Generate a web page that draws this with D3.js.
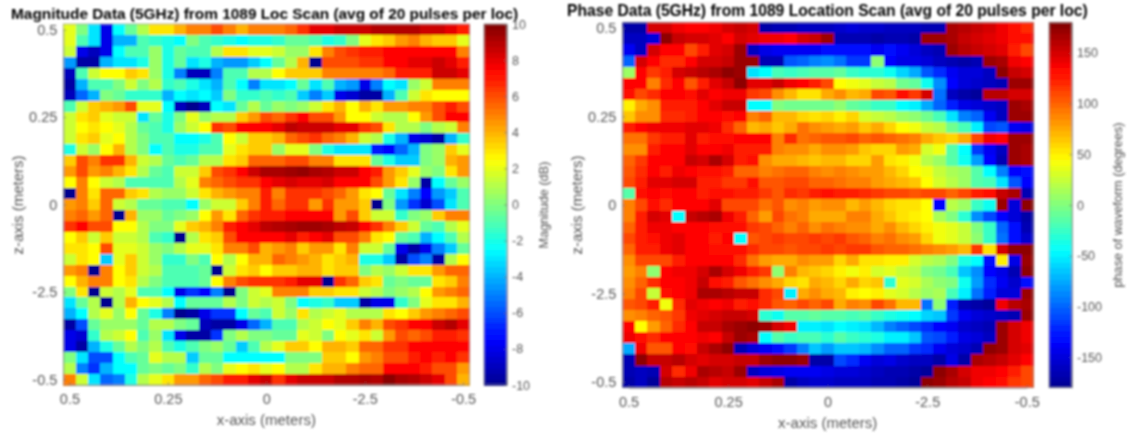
<!DOCTYPE html>
<html>
<head>
<meta charset="utf-8">
<script src="https://d3js.org/d3.v7.min.js"></script>
<style>
  body { margin: 0; background: #fff; }
  text { font-family: "Liberation Sans", Arial, sans-serif; }
</style>
</head>
<body>
<svg id="chart" width="1131" height="436"></svg>
<script>
// tick labels, as printed on the figure (the -2.5 really is there)
var xTickValues = [0.5, 0.25, 0, -0.25, -0.5];
var xTickLabels = ["0.5", "0.25", "0", "-2.5", "-0.5"];
var yTickValues = [0.5, 0.25, 0, -0.25, -0.5];
var yTickLabels = ["0.5", "0.25", "0", "-2.5", "-0.5"];
var magnitudeTicks = [-10, -8, -6, -4, -2, 0, 2, 4, 6, 8, 10];
var phaseTicks = [-150, -100, -50, 0, 50, 100, 150];

// dB, one row per z position, top row first
var magnitude = [
  [2,0,-3,-8,-2.5,-0.5,1,3,3,4,5,5,6,5,4,5,5,5,5.5,6.5,8,8,8.5,8.5,8.5,9,9,9,9,8.5,8.5,8,7],
  [2,-1,-3,-8,-4,-4,-1,-1.5,-2,-2.5,0,-1,-1.5,-2,-2.5,-2,-2,-1.5,-0.5,-0.5,-1,-2,-1.5,0,2,3,3.5,4.5,5,4,3.5,3.5,2],
  [1.5,-8,-9,-8,-2.5,-1,-1,0.5,-2,-0.5,-1,-1,1,3,3,2,2,1.5,0.5,0.5,3,5,6,6.5,7,7,7.5,7.5,7.5,7.5,7.5,7.5,5],
  [-4.5,-9.5,-9.5,-4,-3,-3,-2,0.5,-2,-0.5,-3,-2,-4,-4.5,-4.5,-3.5,-2.5,-0.5,1,4,-10,6,6,6,6.5,6.5,7.5,7.5,8,8,8.5,8,7],
  [-9,-1,1.5,2.5,2.5,3.5,3,0.5,-2,-5,-9,-9,-5,-1,-1,1,1,2.5,3.5,3.5,3.5,5,5,5,5,5,5.5,7,7,7,8.5,8.5,8],
  [-9.5,-4,-1,-1,0,1.5,0,1,-1.5,-1,-2,-3,-4,-1,-2.5,-5,-3,-3,-2.5,-0.5,-3,-1,-4,-4.5,-8,-5,-2.5,-3,0.5,1.5,5,5,5],
  [-9,-5.5,-4,0,-0.5,-1.5,-1.5,-1.5,-4,-2.5,-3,-2.5,-3.5,0,-1.5,-1.5,-1,-1.5,-1,-3.5,-5,-3.5,-8,-8.5,-9.5,-9.5,-4,-1,1.5,3,2.5,2.5,2.5],
  [-1,1.5,3.5,4,4.5,6,2,2,-2.5,-9,-10,-9,-2.5,-3,-0.5,1,-0.5,0.5,0,0.5,1.5,3,4,2.5,4,3,4.5,4.5,5,5,6,7,6],
  [1.5,3,3.5,2,1.5,1.5,-3,-0.5,-2,0,2,0.5,1,1,3.5,4.5,6,5.5,6.5,7.5,6,6,4.5,2.5,2.5,1.5,1,1,2.5,4.5,6,7.5,7.5],
  [1.5,2.5,3,2.5,2,1,-0.5,-1,-2,0.5,1.5,2.5,6.5,6,7.5,7.5,7.5,8,8.8,8.5,8.5,8.5,8,8,6.5,6,3,1,1,0,1,1.5,5],
  [1.5,3,3.5,2,2.5,1,0,-1,-1,-2.5,-2.5,-2,-1,2.5,1.5,3.5,3.5,4,5.5,6,6.5,5.5,5,4,1.5,1,-2,-4,-8,-8.5,-9.5,-4,-1.5],
  [-2,1.5,0.5,2.5,4,1,0,-2.5,-1,-2,-2,-1,-1,2,3,3.5,3.5,0.5,2,2,0,-2,-3,-3,-3,-7,-7.5,-5.5,-4,0,0.5,3.5,2],
  [3.5,6,5,6.5,6.5,4,1.5,1,-0.5,-1,-0.5,1,1,3,3.5,5.5,5.5,5.5,6,6,5,5,3,3,3,-0.5,-2,-3.5,-3.5,0,0.5,4,4.5],
  [4.5,6,4.5,5,4,3,1,-0.5,-1,1.5,1.5,3.5,6,6.5,7.5,8.5,9.2,9.2,9.4,9.6,9.2,9,8.5,8.5,7.5,7,4.5,3.5,2,0.5,0,3,4.5],
  [2.5,5,2.5,1.5,1,-1,-1,-1,-1,1,2,5,5.5,6,6.5,6.5,7.5,8,8.3,8,8,8.3,7.5,7.5,7.5,6,4.5,3,0.5,-9.5,-2.5,-0.5,0.5],
  [-10,5,3,5.5,5.5,3.5,3,1,0.5,0.5,1.5,3,4,4.5,5,5,7,5,6.5,6.5,6.5,6,5.5,4.5,3,2.5,-0.5,-3,-5,-7.5,-4.5,-3.5,-1],
  [4.5,5,3.5,5.5,1.5,1,-0.5,-0.5,-1,-1,-2.5,0.5,1.5,1.5,3.5,5,7,5.5,6.5,6.5,4.5,6.5,4.5,4.5,3.5,-10,0,-4.5,-6.5,-8.5,-6,-3,-1],
  [5,5.5,4.5,5.5,-10,4,0.5,0.5,-0.5,0,0.5,2.5,4.5,3,5.5,6.5,7,7,7.5,7.5,7.5,7.5,4.5,6,3.5,1.5,1.5,-1.5,0,0.5,3.5,5,5],
  [6.5,7.5,6,6,2.5,2.5,1,0,0,2,3.5,4,5,7,7.5,8,8.8,9,9.2,9.4,9.4,9.2,8.8,8.6,7.5,6.5,5,3.5,1.5,-0.5,-1,1,2],
  [2.5,3.5,1.5,3.5,1.5,1.5,1,-1,-1.5,-10,1,3,3.5,6,7.5,7.5,7.5,7.5,8,7,7.5,8,6,6,5,3,2.5,-0.5,-1,-4,-2.5,-1,1],
  [3,3,2.5,6,2,2,1.5,0.5,0,1,2,2,3,5,5,6,4,4.5,5,3.5,4.5,4.5,3,5,1.5,1.5,-0.5,-8,-9.5,-8,-5,-3.5,-0.5],
  [1.5,3,2.5,-3.5,2,3.5,1.5,0.5,-1.5,-1.5,0,-1,2.5,1,2.5,4,4,5.5,5,4.5,4,3,3.5,4,-2,-2,-3.5,-9.5,-6,-5,-9.5,1,2.5],
  [4.5,5,-10,5,2.5,3.5,1.5,1,-1,-1,-1,-0.5,-10,1.5,3,3.5,2.5,3.5,3.5,4,4,3,3.5,3.5,0,1,0.5,1.5,3,3,4.5,5.5,5.5],
  [2.5,4,5,5,2.5,3,1,0,-1,-1,-1,-0.5,2.5,5,6,6.5,6.5,6.5,7,8,8,-10,6.5,5.5,3.5,3,-0.5,0,-0.5,-0.5,3,3.5,5],
  [0,3,-10,1.5,1,2,-1,-1,-2.5,-8,-6.5,-7.5,-5,-10,0,1.5,2,5,5,5,3.5,3.5,3,3,1.5,1,0,0.5,1,2.5,4.5,5,5.5],
  [-3,-0.5,1,-10,1,4,2.5,2,1,-2.5,-0.5,-0.5,-0.5,1,0,1.5,1,1.5,0,-2.5,-2,-1.5,-3.5,-3.5,-9.5,-8,-8,-1.5,0,2,3,3,4],
  [-4,-2.5,1,2,0.5,2.5,-0.5,-2,-5,-10,-9.5,-8,-6.5,-6.5,-2.5,-0.5,-1,1.5,0.5,3,1,1.5,2,1,1,1,3,2.5,3.5,4.5,5,5.5,6],
  [-9.5,-6,-0.5,0.5,0.5,0.5,-0.5,1,1,0,-0.5,-9,-9.5,-9.5,-8,-5.5,-4,-1,-1,1,1.5,2.5,2,3.5,5,4,6,6.5,7.5,7.5,8.5,9,8],
  [-8,-8.5,-1.5,1,1.5,2.5,-1,0.5,-3,-8,-9.5,-9.5,-6.5,0,1,0,0,-0.5,-0.5,2,1.5,0,2.5,2,3,1.5,4.5,6,5.5,6,7,7,6.5],
  [-8,-9.5,-4,-2,-0.5,1,0,1,-1,-2,-1,0,0.5,-0.5,-3.5,-1,1,2,3.5,3.5,2.5,4,4,3.5,5.5,5.5,6.5,6.5,7.5,7.5,7.5,7.5,7.5],
  [0,-3,-6,-6,-2.5,-1,-0.5,2,1,1,-3.5,-0.5,-0.5,-2.5,-2.5,-2.5,-2.5,-2.5,0,0,0,3.5,3.5,2.5,4.5,5,6,6,7,7.5,7,7.5,6.5],
  [1,-5,-6.5,-4,-2.5,-2.5,-0.5,0,-0.5,0,-1.5,1,0,2,2.5,3,2,2.5,1,1,3,4,4,5,5.5,5.5,7.5,7.5,7.5,7,6,6,4.5],
  [5,1.5,-3,-5.5,-5,-2,1,2,3,4.5,4.5,5.5,6,7,7,8,8.5,6.5,8,8.5,8.5,8.5,9,9,9.2,9,9.8,9.2,9,8.5,8,6,4]
];

// degrees, same layout as magnitude
var phase = [
  [-170,-170,150,150,140,135,135,140,150,155,150,-170,-165,-165,-160,-160,-160,-155,-150,-155,-155,-160,-160,-160,-165,-165,165,160,155,150,140,130,120],
  [-160,-160,-150,175,155,150,150,145,135,150,145,140,140,135,150,155,170,-165,-165,-165,-170,-165,-165,-170,170,170,165,155,150,145,140,130,130],
  [-140,-160,150,135,135,110,125,145,150,170,-160,-145,-140,-140,-140,-140,-130,-130,-130,-130,-140,-130,-140,-150,-160,-165,170,160,155,150,145,125,110],
  [-100,150,135,120,120,135,150,150,155,170,170,-165,-165,-105,-100,-90,-85,-95,-115,-115,5,-135,-145,-145,-150,-160,-165,-170,-165,170,165,140,135],
  [10,135,115,125,150,155,160,165,175,170,-55,-45,-20,-25,-20,-15,-15,-10,-25,-30,-30,-40,-60,-75,-105,-120,-140,-150,-150,-160,175,155,150],
  [135,135,90,120,135,105,125,145,155,175,145,145,155,140,135,125,110,45,40,35,25,20,-5,-10,-40,-85,-135,-150,-155,-160,-165,170,170],
  [130,110,120,135,135,130,145,135,140,140,115,110,85,70,55,55,75,85,70,75,110,105,130,115,150,-95,-160,-170,-175,160,160,150,150],
  [50,75,85,125,125,125,135,145,155,155,-45,-45,0,-5,-5,-5,-5,5,-10,-15,-25,-25,-45,-50,-75,-100,-125,-145,-150,-155,-160,170,165],
  [65,85,85,120,120,125,135,135,130,135,90,100,70,70,60,55,60,50,60,30,25,20,10,5,-5,-20,-55,-90,-100,-140,-160,170,170],
  [125,135,140,140,140,145,145,140,120,100,70,75,65,75,95,85,80,75,80,65,75,60,45,40,25,20,-5,-20,-50,-110,-105,-140,-145],
  [95,95,115,125,125,145,125,130,130,135,135,135,90,120,95,100,105,105,110,100,105,100,95,90,75,65,60,75,110,140,135,170,170],
  [85,85,125,135,135,145,135,135,140,125,125,125,90,85,85,75,85,85,80,65,60,60,80,75,30,40,-15,-45,-115,-140,-160,170,165],
  [100,115,135,135,135,155,150,165,150,125,130,85,75,75,70,65,70,70,60,60,80,55,50,40,20,10,-15,-40,-80,-135,-165,170,165],
  [105,120,135,125,140,135,130,130,125,100,100,90,95,100,100,90,85,90,85,80,80,70,60,45,40,25,15,10,-15,-45,-90,-135,-130],
  [110,125,145,145,150,150,125,125,115,115,130,105,105,110,110,100,100,95,90,90,80,75,70,65,45,30,20,10,-15,-20,-55,-105,-135],
  [-15,130,135,130,135,135,125,130,130,125,125,115,105,120,115,125,130,125,125,120,115,110,110,105,110,110,100,110,125,130,155,165,-165],
  [90,110,130,120,135,135,135,145,110,110,110,95,105,85,90,80,85,85,70,80,70,60,55,55,45,-135,20,10,-25,-40,170,-150,175],
  [90,125,150,145,-45,155,160,165,140,125,100,80,110,95,90,75,75,75,90,90,75,65,55,50,45,15,0,-30,-85,-110,-135,-150,-170],
  [100,125,140,140,135,135,135,130,130,130,115,110,100,90,100,85,95,90,85,85,75,85,70,60,50,40,35,25,0,-25,-100,-130,-165],
  [110,125,130,140,145,135,135,125,135,-45,105,110,115,110,110,115,110,115,105,100,90,95,85,80,60,40,35,25,5,-25,-95,-130,-155],
  [100,125,125,140,145,135,135,130,130,130,120,110,110,105,110,110,115,110,115,115,105,100,100,95,90,85,80,70,115,55,150,175,175],
  [85,110,110,110,125,135,135,135,135,120,95,80,75,75,85,80,80,60,75,55,55,50,50,30,20,15,0,-35,-45,-130,50,-145,170],
  [80,90,5,135,140,140,150,165,150,140,125,115,5,90,70,65,60,50,40,50,30,35,25,20,0,-5,-20,-65,-85,-135,-145,-165,175],
  [85,100,120,135,135,140,155,130,125,105,95,85,75,60,55,75,70,60,75,60,65,-30,35,30,15,5,0,-40,-80,-120,-140,-155,-130],
  [90,110,25,130,135,140,165,165,160,155,155,120,110,-50,75,85,75,70,50,45,50,35,30,20,10,15,-20,-50,-95,-125,-150,-150,170],
  [105,110,125,40,120,145,140,135,140,125,130,120,105,100,110,100,110,75,90,85,110,95,70,70,-95,5,-125,-165,-170,-175,140,160,165],
  [85,90,100,105,115,140,145,150,155,155,150,-30,-40,-15,-15,-10,-15,-15,-20,-15,-25,-35,-40,-45,-60,-65,-115,-140,-150,-155,-160,-165,170],
  [135,45,80,100,120,135,155,155,165,170,175,170,150,140,-50,-50,-55,-45,-50,-55,-70,-90,-100,-110,-120,-135,-140,-155,-160,-165,170,150,140],
  [140,130,120,135,135,135,140,135,155,170,165,-45,-15,-25,-20,-20,-30,-15,-25,-30,-35,-50,-50,-65,-105,-110,-125,-145,-150,-160,170,150,140],
  [-75,140,105,105,135,130,155,165,175,-165,-150,-140,-130,-115,-90,-65,-80,-65,-65,-70,-85,-100,-100,-115,-120,-140,-150,-155,-165,175,170,150,145],
  [-165,175,155,155,160,150,145,150,150,155,155,170,175,175,170,-170,-170,-110,-120,-140,-150,-145,-155,-160,-160,-170,-145,-170,165,160,155,145,135],
  [-165,-160,-165,150,120,140,165,160,155,170,-160,-150,-145,-140,-140,-140,-145,-150,-150,-155,-160,-165,-165,-170,-175,175,165,150,140,140,135,125,110],
  [-170,-160,-175,160,155,160,155,145,150,150,145,155,165,-170,-160,-155,-155,-160,-160,-160,-165,-165,-170,-175,175,170,160,155,140,135,130,115,110]
];

var svg = d3.select("#chart");

// the reference is a soft upscaled screenshot
var defs = svg.append("defs");
defs.append("filter").attr("id", "soft")
    .attr("filterUnits", "userSpaceOnUse")
    .attr("x", 0).attr("y", 0).attr("width", 1131).attr("height", 436)
    .append("feGaussianBlur").attr("stdDeviation", 0.85);

var root = svg.append("g").attr("filter", "url(#soft)");

function jet(lo, hi) {
    var s = d3.scaleLinear()
        .domain([0, 0.125, 0.375, 0.625, 0.875, 1])
        .range(["#00008f", "#0000ff", "#00ffff", "#ffff00", "#ff0000", "#800000"])
        .clamp(true);
    return function(v) { return s((v - lo) / (hi - lo)); };
}

function styleAxis(g, size) {
    g.selectAll("path").attr("stroke", "#8a8a8a").attr("stroke-width", 0.8);
    g.selectAll("line").attr("stroke", "#666").attr("stroke-width", 0.6);
    g.selectAll("text").attr("fill", "#555").attr("font-size", size)
        .attr("font-family", "'Liberation Sans', Arial, sans-serif");
}

function drawPanel(p) {
    var g = root.append("g");
    var nRows = p.values.length, nCols = p.values[0].length;
    var color = jet(p.lo, p.hi);

    var xBand = d3.scaleBand().domain(d3.range(nCols)).range([p.left, p.right]);
    var yBand = d3.scaleBand().domain(d3.range(nRows)).range([p.top, p.bottom]);

    // ticks sit on the first and last cell centres (imagesc)
    var xScale = d3.scaleLinear().domain([0.5, -0.5])
        .range([xBand(0) + xBand.bandwidth() / 2, xBand(nCols - 1) + xBand.bandwidth() / 2]);
    var yScale = d3.scaleLinear().domain([0.5, -0.5])
        .range([yBand(0) + yBand.bandwidth() / 2, yBand(nRows - 1) + yBand.bandwidth() / 2]);

    g.selectAll("g.row")
        .data(p.values)
        .enter().append("g")
        .attr("class", "row")
        .attr("transform", function(d, i) { return "translate(0," + yBand(i) + ")"; })
        .selectAll("rect")
        .data(function(d) { return d; })
        .enter().append("rect")
        .attr("x", function(d, i) { return xBand(i); })
        .attr("width", xBand.bandwidth() + 0.5)
        .attr("height", yBand.bandwidth() + 0.5)
        .attr("shape-rendering", "crispEdges")
        .attr("fill", function(d) { return color(d); });

    var xAxis = d3.axisBottom(xScale)
        .tickValues(xTickValues)
        .tickFormat(function(d, i) { return xTickLabels[i]; })
        .tickSize(-3).tickSizeOuter(0).tickPadding(9);
    g.append("g").attr("transform", "translate(0," + p.bottom + ")").call(xAxis).call(styleAxis, 14.5);

    var yAxis = d3.axisLeft(yScale)
        .tickValues(yTickValues)
        .tickFormat(function(d, i) { return yTickLabels[i]; })
        .tickSize(-3).tickSizeOuter(0).tickPadding(6);
    g.append("g").attr("transform", "translate(" + p.left + ",0)").call(yAxis).call(styleAxis, 14.5);

    // the axis paths only span the cell centres, so close the box by hand
    g.append("rect").attr("x", p.left).attr("y", p.top)
        .attr("width", p.right - p.left).attr("height", p.bottom - p.top)
        .attr("fill", "none").attr("stroke", "#8a8a8a").attr("stroke-width", 0.7);

    g.append("text").text(p.title)
        .attr("x", p.titleX).attr("y", p.titleY)
        .attr("font-size", p.titleSize).attr("font-weight", "bold").attr("fill", "#000");
    g.append("text").text("x-axis (meters)")
        .attr("x", (p.left + p.right) / 2).attr("y", p.bottom + 40)
        .attr("text-anchor", "middle").attr("font-size", 15).attr("fill", "#555");
    g.append("text").text("z-axis (meters)")
        .attr("transform", "translate(" + (p.left - 40) + ",205) rotate(-90)")
        .attr("text-anchor", "middle").attr("font-size", 15).attr("fill", "#555");

    // colorbar
    var barScale = d3.scaleLinear().domain([p.lo, p.hi]).range([p.bottom, p.top]);
    var steps = d3.range(64).map(function(i) { return p.lo + (p.hi - p.lo) * (i + 0.5) / 64; });
    var stepH = (p.bottom - p.top) / 64;
    g.append("g").selectAll("rect")
        .data(steps)
        .enter().append("rect")
        .attr("x", p.barLeft)
        .attr("y", function(d) { return barScale(d) - stepH / 2; })
        .attr("width", p.barWidth)
        .attr("height", stepH + 0.5)
        .attr("shape-rendering", "crispEdges")
        .attr("fill", function(d) { return color(d); });
    var barAxis = d3.axisRight(barScale)
        .tickValues(p.barTicks)
        .tickFormat(function(d) { return String(d); })
        .tickSize(-3).tickSizeOuter(0).tickPadding(5);
    g.append("g").attr("transform", "translate(" + (p.barLeft + p.barWidth) + ",0)")
        .call(barAxis).call(styleAxis, 12.5);
    g.append("rect").attr("x", p.barLeft).attr("y", p.top)
        .attr("width", p.barWidth).attr("height", p.bottom - p.top)
        .attr("fill", "none").attr("stroke", "#8a8a8a").attr("stroke-width", 0.7);
    g.append("text").text(p.barLabel)
        .attr("transform", "translate(" + p.barLabelX + ",205) rotate(-90)")
        .attr("text-anchor", "middle").attr("font-size", 12.7).attr("fill", "#555");
}

drawPanel({
    values: magnitude, lo: -10, hi: 10,
    left: 63.3, right: 469.3, top: 24, bottom: 385,
    title: "Magnitude Data (5GHz) from 1089 Loc Scan (avg of 20 pulses per loc)", titleX: 11, titleY: 18.5, titleSize: 15.4,
    barLeft: 484, barWidth: 23, barTicks: magnitudeTicks,
    barLabel: "Magnitude (dB)", barLabelX: 548
});

drawPanel({
    values: phase, lo: -180, hi: 180,
    left: 622.3, right: 1033, top: 22.3, bottom: 387.7,
    title: "Phase Data (5GHz) from 1089 Location Scan (avg of 20 pulses per loc)", titleX: 567, titleY: 16, titleSize: 15.65,
    barLeft: 1049, barWidth: 23, barTicks: phaseTicks,
    barLabel: "phase of waveform (degrees)", barLabelX: 1122
});
</script>
</body>
</html>
